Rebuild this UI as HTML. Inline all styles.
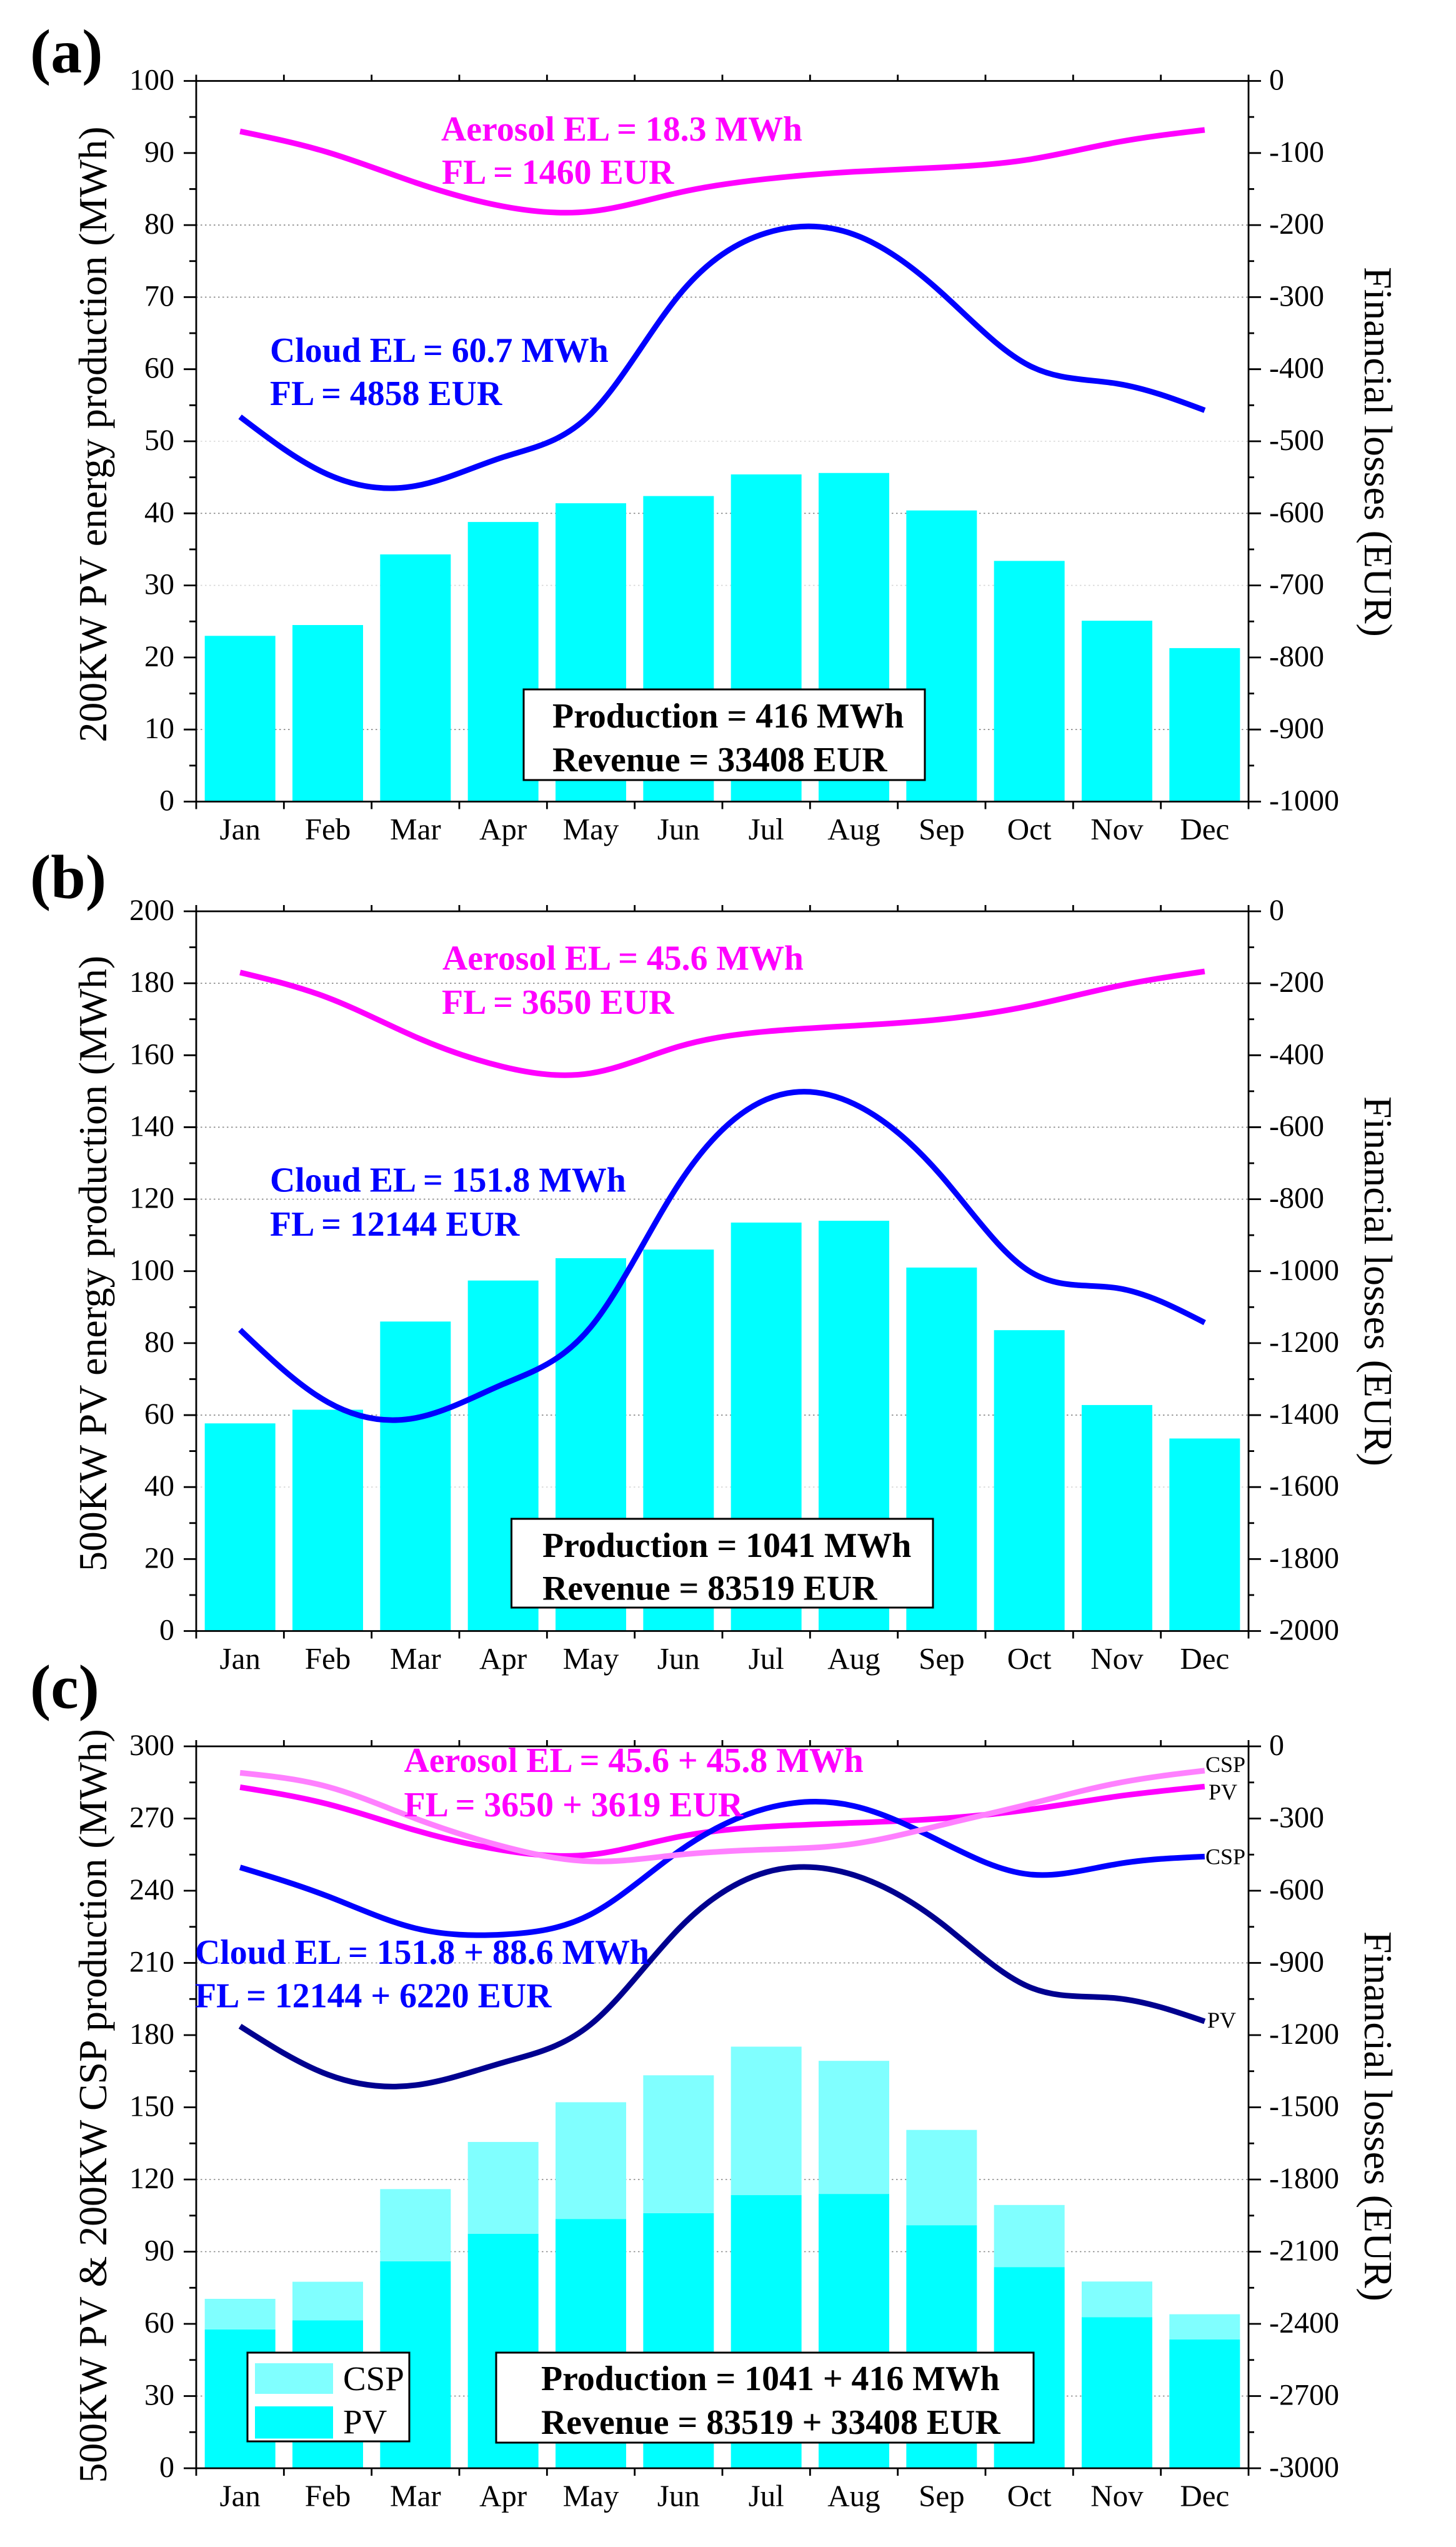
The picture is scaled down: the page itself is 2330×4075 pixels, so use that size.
<!DOCTYPE html>
<html lang="en">
<head>
<meta charset="utf-8">
<title>PV and CSP energy production and losses</title>
<style>
  html, body { margin: 0; padding: 0; background: #fff; }
  svg { display: block; font-family: "Liberation Serif", serif; }
  .tick-label { font-size: 48px; fill: #000; }
  .month-label { font-size: 49px; fill: #000; }
  .axis-title { font-size: 63.8px; fill: #000; }
  .panel-label { font-size: 100px; font-weight: bold; fill: #000; }
  .note { font-size: 55.8px; font-weight: bold; }
  .aero { fill: #ff00ff; }
  .cloud { fill: #0000ff; }
  .summary { fill: #000; }
  .box { fill: #fff; stroke: #000; stroke-width: 3; }
  .end-label { font-size: 36px; fill: #000; }
  .legend-text { font-size: 55px; fill: #000; }
</style>
</head>
<body>
<svg id="figure" xmlns="http://www.w3.org/2000/svg" width="2330" height="4075" viewBox="0 0 2330 4075">
  <rect x="0" y="0" width="2330" height="4075" fill="#fff"/>

  <g id="panel-a"></g>
  <g id="panel-b"></g>
  <g id="panel-c"></g>

  <!-- Panel a text -->
  <g>
    <text class="panel-label" x="48" y="116">(a)</text>
    <text class="axis-title" transform="translate(170,1187.5) rotate(-90)">200KW PV energy production (MWh)</text>
    <text class="axis-title" transform="translate(2184,427) rotate(90)">Financial losses (EUR)</text>
    <text class="note aero" x="706" y="225">Aerosol EL = 18.3 MWh</text>
    <text class="note aero" x="707" y="294">FL = 1460 EUR</text>
    <text class="note cloud" x="432" y="579">Cloud EL = 60.7 MWh</text>
    <text class="note cloud" x="432" y="648">FL = 4858 EUR</text>
    <rect class="box" x="838" y="1103" width="642" height="145"/>
    <text class="note summary" x="884" y="1164">Production = 416 MWh</text>
    <text class="note summary" x="884" y="1234">Revenue = 33408 EUR</text>
  </g>

  <!-- Panel b text -->
  <g>
    <text class="panel-label" x="48" y="1436.5">(b)</text>
    <text class="axis-title" transform="translate(170,2514) rotate(-90)">500KW PV energy production (MWh)</text>
    <text class="axis-title" transform="translate(2184,1754) rotate(90)">Financial losses (EUR)</text>
    <text class="note aero" x="708" y="1551.5">Aerosol EL = 45.6 MWh</text>
    <text class="note aero" x="707" y="1622">FL = 3650 EUR</text>
    <text class="note cloud" x="432" y="1906.5">Cloud EL = 151.8 MWh</text>
    <text class="note cloud" x="432" y="1977">FL = 12144 EUR</text>
    <rect class="box" x="818.5" y="2430" width="674.5" height="142"/>
    <text class="note summary" x="868" y="2491">Production = 1041 MWh</text>
    <text class="note summary" x="868" y="2559.5">Revenue = 83519 EUR</text>
  </g>

  <!-- Panel c text -->
  <g>
    <text class="panel-label" x="48" y="2732.5">(c)</text>
    <text class="axis-title" transform="translate(170,3972.5) rotate(-90)">500KW PV &amp; 200KW CSP production (MWh)</text>
    <text class="axis-title" transform="translate(2184,3090) rotate(90)">Financial losses (EUR)</text>
    <text class="note aero" x="646.5" y="2835">Aerosol EL = 45.6 + 45.8 MWh</text>
    <text class="note aero" x="646.5" y="2906">FL = 3650 + 3619 EUR</text>
    <text class="note cloud" x="312" y="3142">Cloud EL = 151.8 + 88.6 MWh</text>
    <text class="note cloud" x="312" y="3211.5">FL = 12144 + 6220 EUR</text>
    <text class="end-label" x="1929" y="2835">CSP</text>
    <text class="end-label" x="1934" y="2879">PV</text>
    <text class="end-label" x="1929" y="2982.5">CSP</text>
    <text class="end-label" x="1932" y="3244">PV</text>
    <rect class="box" x="396" y="3764" width="259" height="142"/>
    <rect x="408" y="3781" width="125" height="49" fill="#80ffff"/>
    <text class="legend-text" x="549" y="3824">CSP</text>
    <rect x="408" y="3850" width="125" height="51.5" fill="#00ffff"/>
    <text class="legend-text" x="549" y="3893">PV</text>
    <rect class="box" x="794" y="3764" width="860" height="144"/>
    <text class="note summary" x="866" y="3824">Production = 1041 + 416 MWh</text>
    <text class="note summary" x="866" y="3894">Revenue = 83519 + 33408 EUR</text>
  </g>
</svg>

<script>
// Categories
const months = ['Jan','Feb','Mar','Apr','May','Jun','Jul','Aug','Sep','Oct','Nov','Dec'];

// Monthly production (MWh)
const pvProductionA = [23.0, 24.5, 34.3, 38.8, 41.4, 42.4, 45.4, 45.6, 40.4, 33.4, 25.1, 21.3];
const pvProductionB = [57.7, 61.5, 86.0, 97.4, 103.6, 106.0, 113.5, 114.0, 101.0, 83.6, 62.8, 53.5];
const cspProductionC = [12.7, 16.0, 30.0, 38.2, 48.5, 57.3, 61.7, 55.3, 39.6, 25.8, 14.8, 10.5];

// Monthly financial losses (EUR)
const aerosolLossA = [-70, -99, -141, -174, -181, -155, -136, -126, -120, -109, -85, -68];
const cloudLossA = [-466, -546, -562, -522, -462, -298, -211, -213, -294, -395, -420, -457];
const aerosolLossB = [-170, -240, -349, -432, -450, -376, -334, -318, -300, -263, -208, -167];
const cloudLossB = [-1163, -1364, -1408, -1314, -1155, -759, -523, -535, -736, -1000, -1047, -1143];
const aerosolLossCspC = [-110, -168, -300, -416, -478, -451, -429, -405, -327, -240, -153, -101];
const cloudLossCspC = [-503, -623, -756, -782, -698, -437, -258, -248, -397, -532, -489, -458];

// Tick labels
const leftTicksA = [0, 10, 20, 30, 40, 50, 60, 70, 80, 90, 100];
const rightTicksA = [0, -100, -200, -300, -400, -500, -600, -700, -800, -900, -1000];
const leftTicksB = [0, 20, 40, 60, 80, 100, 120, 140, 160, 180, 200];
const rightTicksB = [0, -200, -400, -600, -800, -1000, -1200, -1400, -1600, -1800, -2000];
const leftTicksC = [0, 30, 60, 90, 120, 150, 180, 210, 240, 270, 300];
const rightTicksC = [0, -300, -600, -900, -1200, -1500, -1800, -2100, -2400, -2700, -3000];

// Left-axis values where a dotted gridline shows in the picture
const gridStrongA = [80, 70, 40, 10];
const gridFaintA = [50, 30];
const gridStrongB = [180, 140, 120, 60];
const gridFaintB = [40];
const gridStrongC = [210, 120, 90, 30];
const gridFaintC = [];

const SVG_NS = 'http://www.w3.org/2000/svg';
const PLOT_LEFT = 314;
const PLOT_RIGHT = 1998;
const BAR_WIDTH = 113;

function make(tag, parent, attrs) {
  const node = document.createElementNS(SVG_NS, tag);
  for (const key in attrs) node.setAttribute(key, attrs[key]);
  parent.appendChild(node);
  return node;
}

function xBand(i) {
  return PLOT_LEFT + (PLOT_RIGHT - PLOT_LEFT) * i / months.length;
}
function xCenter(i) {
  return xBand(i + 0.5);
}
function linearScale(domainMin, domainMax, pixelBottom, pixelTop) {
  return function (v) {
    return pixelBottom + (v - domainMin) / (domainMax - domainMin) * (pixelTop - pixelBottom);
  };
}
// Natural cubic spline through the monthly points, written as Bezier segments.
function splinePath(values, yScale) {
  const n = values.length;
  const ys = values.map(yScale);
  const h = xCenter(1) - xCenter(0);
  const c = new Array(n).fill(0);
  const rhs = new Array(n).fill(0);
  const m = new Array(n).fill(0);
  for (let i = 1; i < n - 1; i++) {
    const w = 4 - (i > 1 ? c[i - 1] : 0);
    c[i] = 1 / w;
    rhs[i] = (6 * (ys[i + 1] - 2 * ys[i] + ys[i - 1]) / (h * h) - (i > 1 ? rhs[i - 1] : 0)) / w;
  }
  for (let i = n - 2; i >= 1; i--) {
    m[i] = rhs[i] - c[i] * m[i + 1];
  }
  let d = 'M' + xCenter(0).toFixed(2) + ' ' + ys[0].toFixed(2);
  for (let i = 0; i < n - 1; i++) {
    const c1y = ys[i] + h / 3 * ((ys[i + 1] - ys[i]) / h - h * (2 * m[i] + m[i + 1]) / 6);
    const c2y = ys[i + 1] - h / 3 * ((ys[i + 1] - ys[i]) / h + h * (m[i] + 2 * m[i + 1]) / 6);
    d += 'C' + (xCenter(i) + h / 3).toFixed(2) + ' ' + c1y.toFixed(2) + ' ' + (xCenter(i + 1) - h / 3).toFixed(2) + ' ' + c2y.toFixed(2) + ' ' + xCenter(i + 1).toFixed(2) + ' ' + ys[i + 1].toFixed(2);
  }
  return d;
}

function drawGrid(group, values, yLeft, opacity) {
  values.forEach(function (v) {
    const line = make('line', group, { x1: PLOT_LEFT, x2: PLOT_RIGHT, y1: yLeft(v), y2: yLeft(v), stroke: '#777', 'stroke-width': 1.6, 'stroke-dasharray': '2.5 4.5', opacity: opacity });
    
    
  });
}

function drawBars(group, values, baseValues, yLeft, color, seriesName) {
  values.forEach(function (v, i) {
    const base = baseValues ? baseValues[i] : 0;
    const yTop = yLeft(base + v);
    const bar = make('rect', group, { x: xCenter(i) - BAR_WIDTH / 2, y: yTop, width: BAR_WIDTH, height: yLeft(base) - yTop, fill: color });
    
    
  });
}

function drawLine(group, values, yRight, color, width, seriesName) {
  const path = make('path', group, { d: splinePath(values, yRight), fill: 'none', stroke: color, 'stroke-width': width });
  
  
}

function drawAxes(group, leftTicks, rightTicks, yLeft, yRight, top, bottom) {
  const axisStyle = { stroke: '#000', 'stroke-width': 2.8 };
  const frame = [
    ['left-axis-line', PLOT_LEFT, top, PLOT_LEFT, bottom],
    ['right-axis-line', PLOT_RIGHT, top, PLOT_RIGHT, bottom],
    ['top-axis-line', PLOT_LEFT, top, PLOT_RIGHT, top],
    ['bottom-axis-line', PLOT_LEFT, bottom, PLOT_RIGHT, bottom]
  ];
  frame.forEach(function (f) {
    const line = make('line', group, Object.assign({ x1: f[1], y1: f[2], x2: f[3], y2: f[4] }, axisStyle));
    
    
  });

  for (let i = 0; i <= months.length; i++) {
    const x = xBand(i);
    const topTick = make('line', group, Object.assign({ x1: x, x2: x, y1: top, y2: top - 10 }, axisStyle));
    
    
    const bottomTick = make('line', group, Object.assign({ x1: x, x2: x, y1: bottom, y2: bottom + 12 }, axisStyle));
    
    
  }

  months.forEach(function (m, i) {
    const label = make('text', group, { class: 'month-label', x: xCenter(i), y: bottom + 60.5, 'text-anchor': 'middle' });
    label.textContent = m;
    
    
  });

  leftTicks.forEach(function (v, i) {
    const y = yLeft(v);
    const tick = make('line', group, Object.assign({ x1: PLOT_LEFT - 20, x2: PLOT_LEFT, y1: y, y2: y }, axisStyle));
    
    
    const label = make('text', group, { class: 'tick-label', x: 279, y: y + 14, 'text-anchor': 'end' });
    label.textContent = String(v);
    
    
    if (i < leftTicks.length - 1) {
      const yMinor = yLeft((v + leftTicks[i + 1]) / 2);
      const minor = make('line', group, Object.assign({ x1: PLOT_LEFT - 11, x2: PLOT_LEFT, y1: yMinor, y2: yMinor }, axisStyle));
      
      
    }
  });

  rightTicks.forEach(function (v, i) {
    const y = yRight(v);
    const tick = make('line', group, Object.assign({ x1: PLOT_RIGHT, x2: PLOT_RIGHT + 20, y1: y, y2: y }, axisStyle));
    
    
    const label = make('text', group, { class: 'tick-label', x: 2031, y: y + 14 });
    label.textContent = String(v);
    
    
    if (i < rightTicks.length - 1) {
      const yMinor = yRight((v + rightTicks[i + 1]) / 2);
      const minor = make('line', group, Object.assign({ x1: PLOT_RIGHT, x2: PLOT_RIGHT + 9, y1: yMinor, y2: yMinor }, axisStyle));
      
      
    }
  });
}

function scalesFor(leftTicks, rightTicks, top, bottom) {
  return {
    yLeft: linearScale(leftTicks[0], leftTicks[leftTicks.length - 1], bottom, top),
    yRight: linearScale(rightTicks[0], rightTicks[rightTicks.length - 1], top, bottom)
  };
}

// Panel a
(function () {
  const g = document.getElementById('panel-a');
  const top = 129.5, bottom = 1282.5;
  const s = scalesFor(leftTicksA, rightTicksA, top, bottom);
  drawGrid(g, gridStrongA, s.yLeft, 0.9);
  drawGrid(g, gridFaintA, s.yLeft, 0.3);
  drawBars(g, pvProductionA, null, s.yLeft, '#00ffff', 'pv-production');
  drawLine(g, aerosolLossA, s.yRight, '#ff00ff', 9, 'aerosol-loss');
  drawLine(g, cloudLossA, s.yRight, '#0000ff', 9, 'cloud-loss');
  drawAxes(g, leftTicksA, rightTicksA, s.yLeft, s.yRight, top, bottom);
})();

// Panel b
(function () {
  const g = document.getElementById('panel-b');
  const top = 1458, bottom = 2609.5;
  const s = scalesFor(leftTicksB, rightTicksB, top, bottom);
  drawGrid(g, gridStrongB, s.yLeft, 0.9);
  drawGrid(g, gridFaintB, s.yLeft, 0.3);
  drawBars(g, pvProductionB, null, s.yLeft, '#00ffff', 'pv-production');
  drawLine(g, aerosolLossB, s.yRight, '#ff00ff', 9, 'aerosol-loss');
  drawLine(g, cloudLossB, s.yRight, '#0000ff', 9, 'cloud-loss');
  drawAxes(g, leftTicksB, rightTicksB, s.yLeft, s.yRight, top, bottom);
})();

// Panel c
(function () {
  const g = document.getElementById('panel-c');
  const top = 2794, bottom = 3949;
  const s = scalesFor(leftTicksC, rightTicksC, top, bottom);
  drawGrid(g, gridStrongC, s.yLeft, 0.9);
  drawGrid(g, gridFaintC, s.yLeft, 0.3);
  drawBars(g, pvProductionB, null, s.yLeft, '#00ffff', 'pv-production');
  drawBars(g, cspProductionC, pvProductionB, s.yLeft, '#80ffff', 'csp-production');
  drawLine(g, aerosolLossB, s.yRight, '#ff00ff', 9, 'aerosol-loss-pv');
  drawLine(g, cloudLossCspC, s.yRight, '#0000ff', 9, 'cloud-loss-csp');
  drawLine(g, aerosolLossCspC, s.yRight, '#ff80ff', 9, 'aerosol-loss-csp');
  drawLine(g, cloudLossB, s.yRight, '#00008f', 9, 'cloud-loss-pv');
  drawAxes(g, leftTicksC, rightTicksC, s.yLeft, s.yRight, top, bottom);
})();
</script>
</body>
</html>
